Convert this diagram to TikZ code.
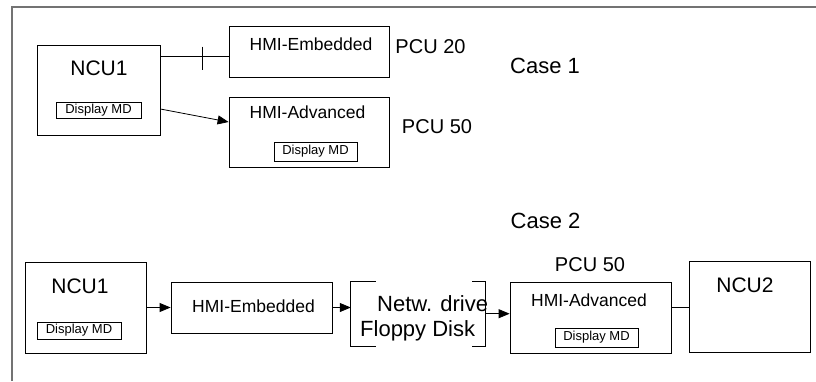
\documentclass[tikz,border=0pt]{standalone}
\usepackage{fontspec}
\setmainfont{Liberation Sans}
\usetikzlibrary{arrows.meta,positioning}

\begin{document}
\begin{tikzpicture}[x=1pt,y=-1pt,
  box/.style={draw,line width=.8pt,inner sep=0pt},
  txt/.style={anchor=base,inner sep=0pt},
  big/.style={txt,font=\fontsize{21}{25}\selectfont},
  mid/.style={txt,font=\fontsize{17.5}{21}\selectfont},
  pcu/.style={txt,font=\fontsize{20}{24}\selectfont},
  case/.style={txt,font=\fontsize{22}{26}\selectfont},
  drv/.style={anchor=base west,inner sep=0pt,font=\fontsize{22}{26}\selectfont},
  small/.style={font=\fontsize{13}{15}\selectfont},
  link/.style={line width=.8pt},
  arr/.style={link,-{Triangle[length=11pt,width=9pt]}}]
\useasboundingbox (0,0) rectangle (816,381);
\draw[line width=1.2pt,black!55] (12,381) |- (816,7);

\node[box,minimum width=123,minimum height=90] (ncuA) at (98.5,90) {};
\node[big] (ncuAt) at (99,75) {NCU1};
\node[box,small,minimum width=85,minimum height=16] (dispA) at (98.5,110) {Display MD};
\node[box,minimum width=160,minimum height=51] (embA) at (309,51.5) {};
\node[mid] (embAt) at (311,50) {HMI-Embedded};
\node[box,minimum width=160,minimum height=70] (advA) at (309,132) {};
\node[mid] (advAt) at (307.5,118) {HMI-Advanced};
\node[box,small,minimum width=83,minimum height=19] (dispAdvA) at (315.5,151.5) {Display MD};
\node[pcu] (pcuA) at (430.5,53) {PCU 20};
\node[pcu] (pcuB) at (437,133) {PCU 50};
\node[case] (caseA) at (545,73) {Case 1};

\coordinate (ta) at ([yshift=-12pt]ncuA.north east);
\draw[link] (ta) -- coordinate[pos=.62] (tick) (ta -| embA.west);
\draw[link] ([yshift=10pt]tick) -- ([yshift=-13pt]tick);
\draw[arr] ([yshift=-19pt]ncuA.east) -- ([yshift=10pt]advA.west);

\node[case] (caseB) at (545.5,228) {Case 2};
\node[box,minimum width=121,minimum height=91] (ncuB) at (85.5,307.5) {};
\node[big] (ncuBt) at (80,293) {NCU1};
\node[box,small,minimum width=84,minimum height=17] (dispB) at (79,330.5) {Display MD};
\node[box,minimum width=161,minimum height=51] (embB) at (251.5,307.5) {};
\node[mid] (embBt) at (253.5,312) {HMI-Embedded};
\node[minimum width=134,minimum height=64,inner sep=0pt] (netw) at (418,313.7) {};
\node[drv] (netwA) at (377,311.7) {Netw. drive};
\node[drv] (netwB) at (360,336.7) {Floppy Disk};
\node[box,minimum width=161,minimum height=71] (advB) at (590.5,317.5) {};
\node[mid] (advBt) at (589,306) {HMI-Advanced};
\node[box,small,minimum width=83,minimum height=19] (dispAdvB) at (596.5,337.5) {Display MD};
\node[pcu] (pcuC) at (590,271) {PCU 50};
\node[box,minimum width=121,minimum height=91] (ncuC) at (750.3,307.3) {};
\node[big] (ncuCt) at (745,292) {NCU2};

\draw[link] ([xshift=25pt]netw.north west) -| (netw.south west) -- ++(25,0);
\draw[link] ([xshift=-13pt]netw.north east) -| (netw.south east) -- ++(-13,0);
\draw[arr] (ncuB) -- (embB);
\draw[arr] (embB.east) -- (embB.east -| netw.west);
\draw[arr] (netw.east) -- (netw.east -| advB.west);
\draw[link] (ncuC.west -| advB.east) -- (ncuC.west);
\end{tikzpicture}
\end{document}
